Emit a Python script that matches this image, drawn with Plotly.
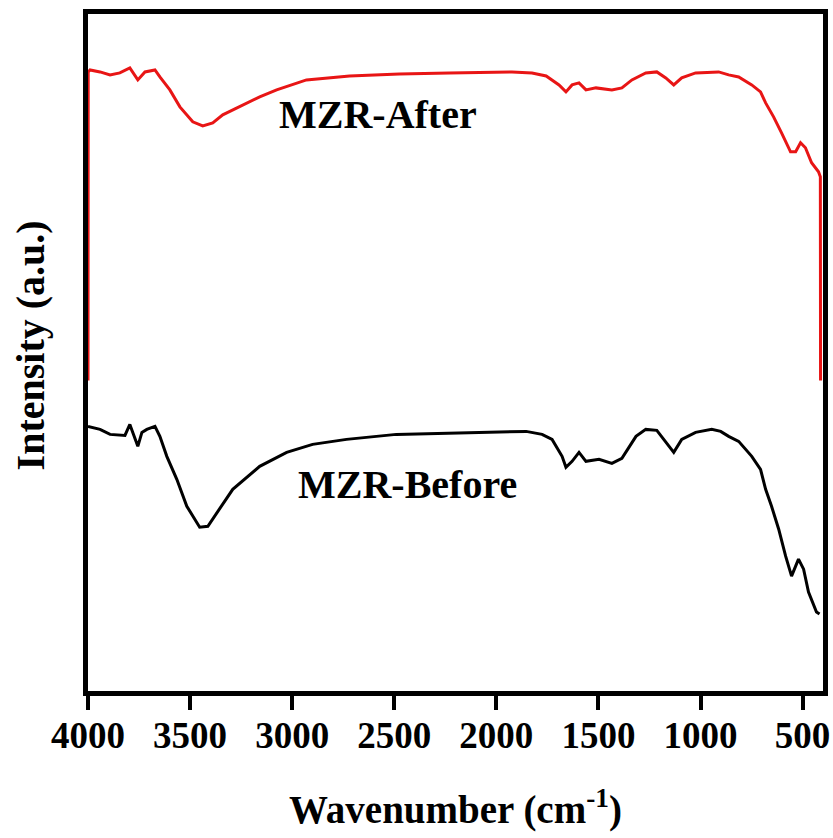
import plotly.graph_objects as go

# MZR-After (red) : wavenumber (cm-1) and intensity (a.u.)
after_wn = [4000, 3999, 3990, 3941, 3892, 3844, 3795, 3756, 3721, 3672, 3648, 3599, 3550,
            3487, 3438, 3389, 3340, 3257, 3159, 3076, 2930, 2719, 2475, 2231, 1923, 1825,
            1756, 1693, 1659, 1629, 1595, 1561, 1512, 1434, 1385, 1336, 1268, 1214, 1170,
            1131, 1092, 1024, 911, 862, 813, 749, 706, 681, 642, 603, 559, 534, 510, 486,
            456, 422, 413, 412]
after_int = [311, 620, 622, 620, 617, 619, 624, 612, 620, 622, 615, 602, 585,
             570, 566, 569, 577, 585, 595, 602, 612, 616, 618, 619, 620, 619,
             616, 607, 600, 607, 609, 602, 604, 602, 604, 612, 619, 620, 614,
             607, 614, 619, 620, 617, 615, 607, 600, 589, 575, 559, 540, 540, 549, 544,
             529, 520, 515, 311]

# MZR-Before (black)
before_wn = [4000, 3941, 3892, 3819, 3795, 3756, 3736, 3712, 3672, 3648, 3614, 3565, 3516,
             3453, 3413, 3355, 3291, 3159, 3027, 2900, 2734, 2490, 2020, 1854, 1776, 1727,
             1678, 1659, 1629, 1595, 1561, 1497, 1434, 1385, 1316, 1268, 1214, 1170, 1131,
             1092, 1024, 945, 901, 862, 813, 749, 706, 681, 652, 617, 583, 554, 520, 495,
             471, 432, 417]
before_int = [265, 262, 257, 256, 267, 245, 259, 262, 265, 255, 235, 212, 185,
              164, 165, 182, 202, 225, 239, 247, 252, 257, 259, 260, 257, 252,
              235, 224, 230, 239, 230, 232, 228, 233, 255, 262, 261, 249, 239,
              252, 259, 262, 260, 255, 250, 235, 222, 202, 185, 162, 135, 115, 132, 122,
              99, 79, 77]

x_ticks = [4000, 3500, 3000, 2500, 2000, 1500, 1000, 500]

FONT = "Liberation Serif"

fig = go.Figure()
fig.add_trace(go.Scatter(x=after_wn, y=after_int, mode="lines",
                         line=dict(color="#e81515", width=3), name="MZR-After"))
fig.add_trace(go.Scatter(x=before_wn, y=before_int, mode="lines",
                         line=dict(color="black", width=3), name="MZR-Before"))

fig.update_layout(
    width=833, height=838,
    margin=dict(l=88, r=10, t=14, b=147, autoexpand=False),
    paper_bgcolor="white", plot_bgcolor="white",
    showlegend=False,
    font=dict(family=FONT, color="black"),
    xaxis=dict(range=[4000, 400], tickvals=x_ticks, ticktext=[str(t) for t in x_ticks],
               automargin=False, ticklabelstandoff=-6,
               showgrid=False, zeroline=False, showline=True, linewidth=5, linecolor="black",
               mirror=True, ticks="outside", ticklen=14, tickwidth=4, tickcolor="black",
               tickfont=dict(family=FONT, size=37, color="black", weight="bold")),
    yaxis=dict(range=[0, 678], showgrid=False, zeroline=False, showline=True, linewidth=5,
               automargin=False,
               linecolor="black", mirror=True, showticklabels=False, ticks=""),
    annotations=[
        dict(text="<b>MZR-After</b>", x=0.394, y=0.851, xref="paper", yref="paper",
             xanchor="center", yanchor="middle",
             showarrow=False, font=dict(family=FONT, size=40, color="black")),
        dict(text="<b>MZR-Before</b>", x=0.435, y=0.305, xref="paper", yref="paper",
             xanchor="center", yanchor="middle",
             showarrow=False, font=dict(family=FONT, size=40, color="black")),
        dict(text="<b>Wavenumber (cm<sup>-1</sup>)</b>", x=0.5, y=-0.172, xref="paper",
             yref="paper", showarrow=False, xanchor="center", yanchor="middle",
             font=dict(family=FONT, size=39, color="black")),
        dict(text="<b>Intensity (a.u.)</b>", x=-0.078, y=0.51, xref="paper", yref="paper",
             showarrow=False, textangle=-90, xanchor="center", yanchor="middle",
             font=dict(family=FONT, size=40, color="black")),
    ],
)

fig.write_html("out.html")
